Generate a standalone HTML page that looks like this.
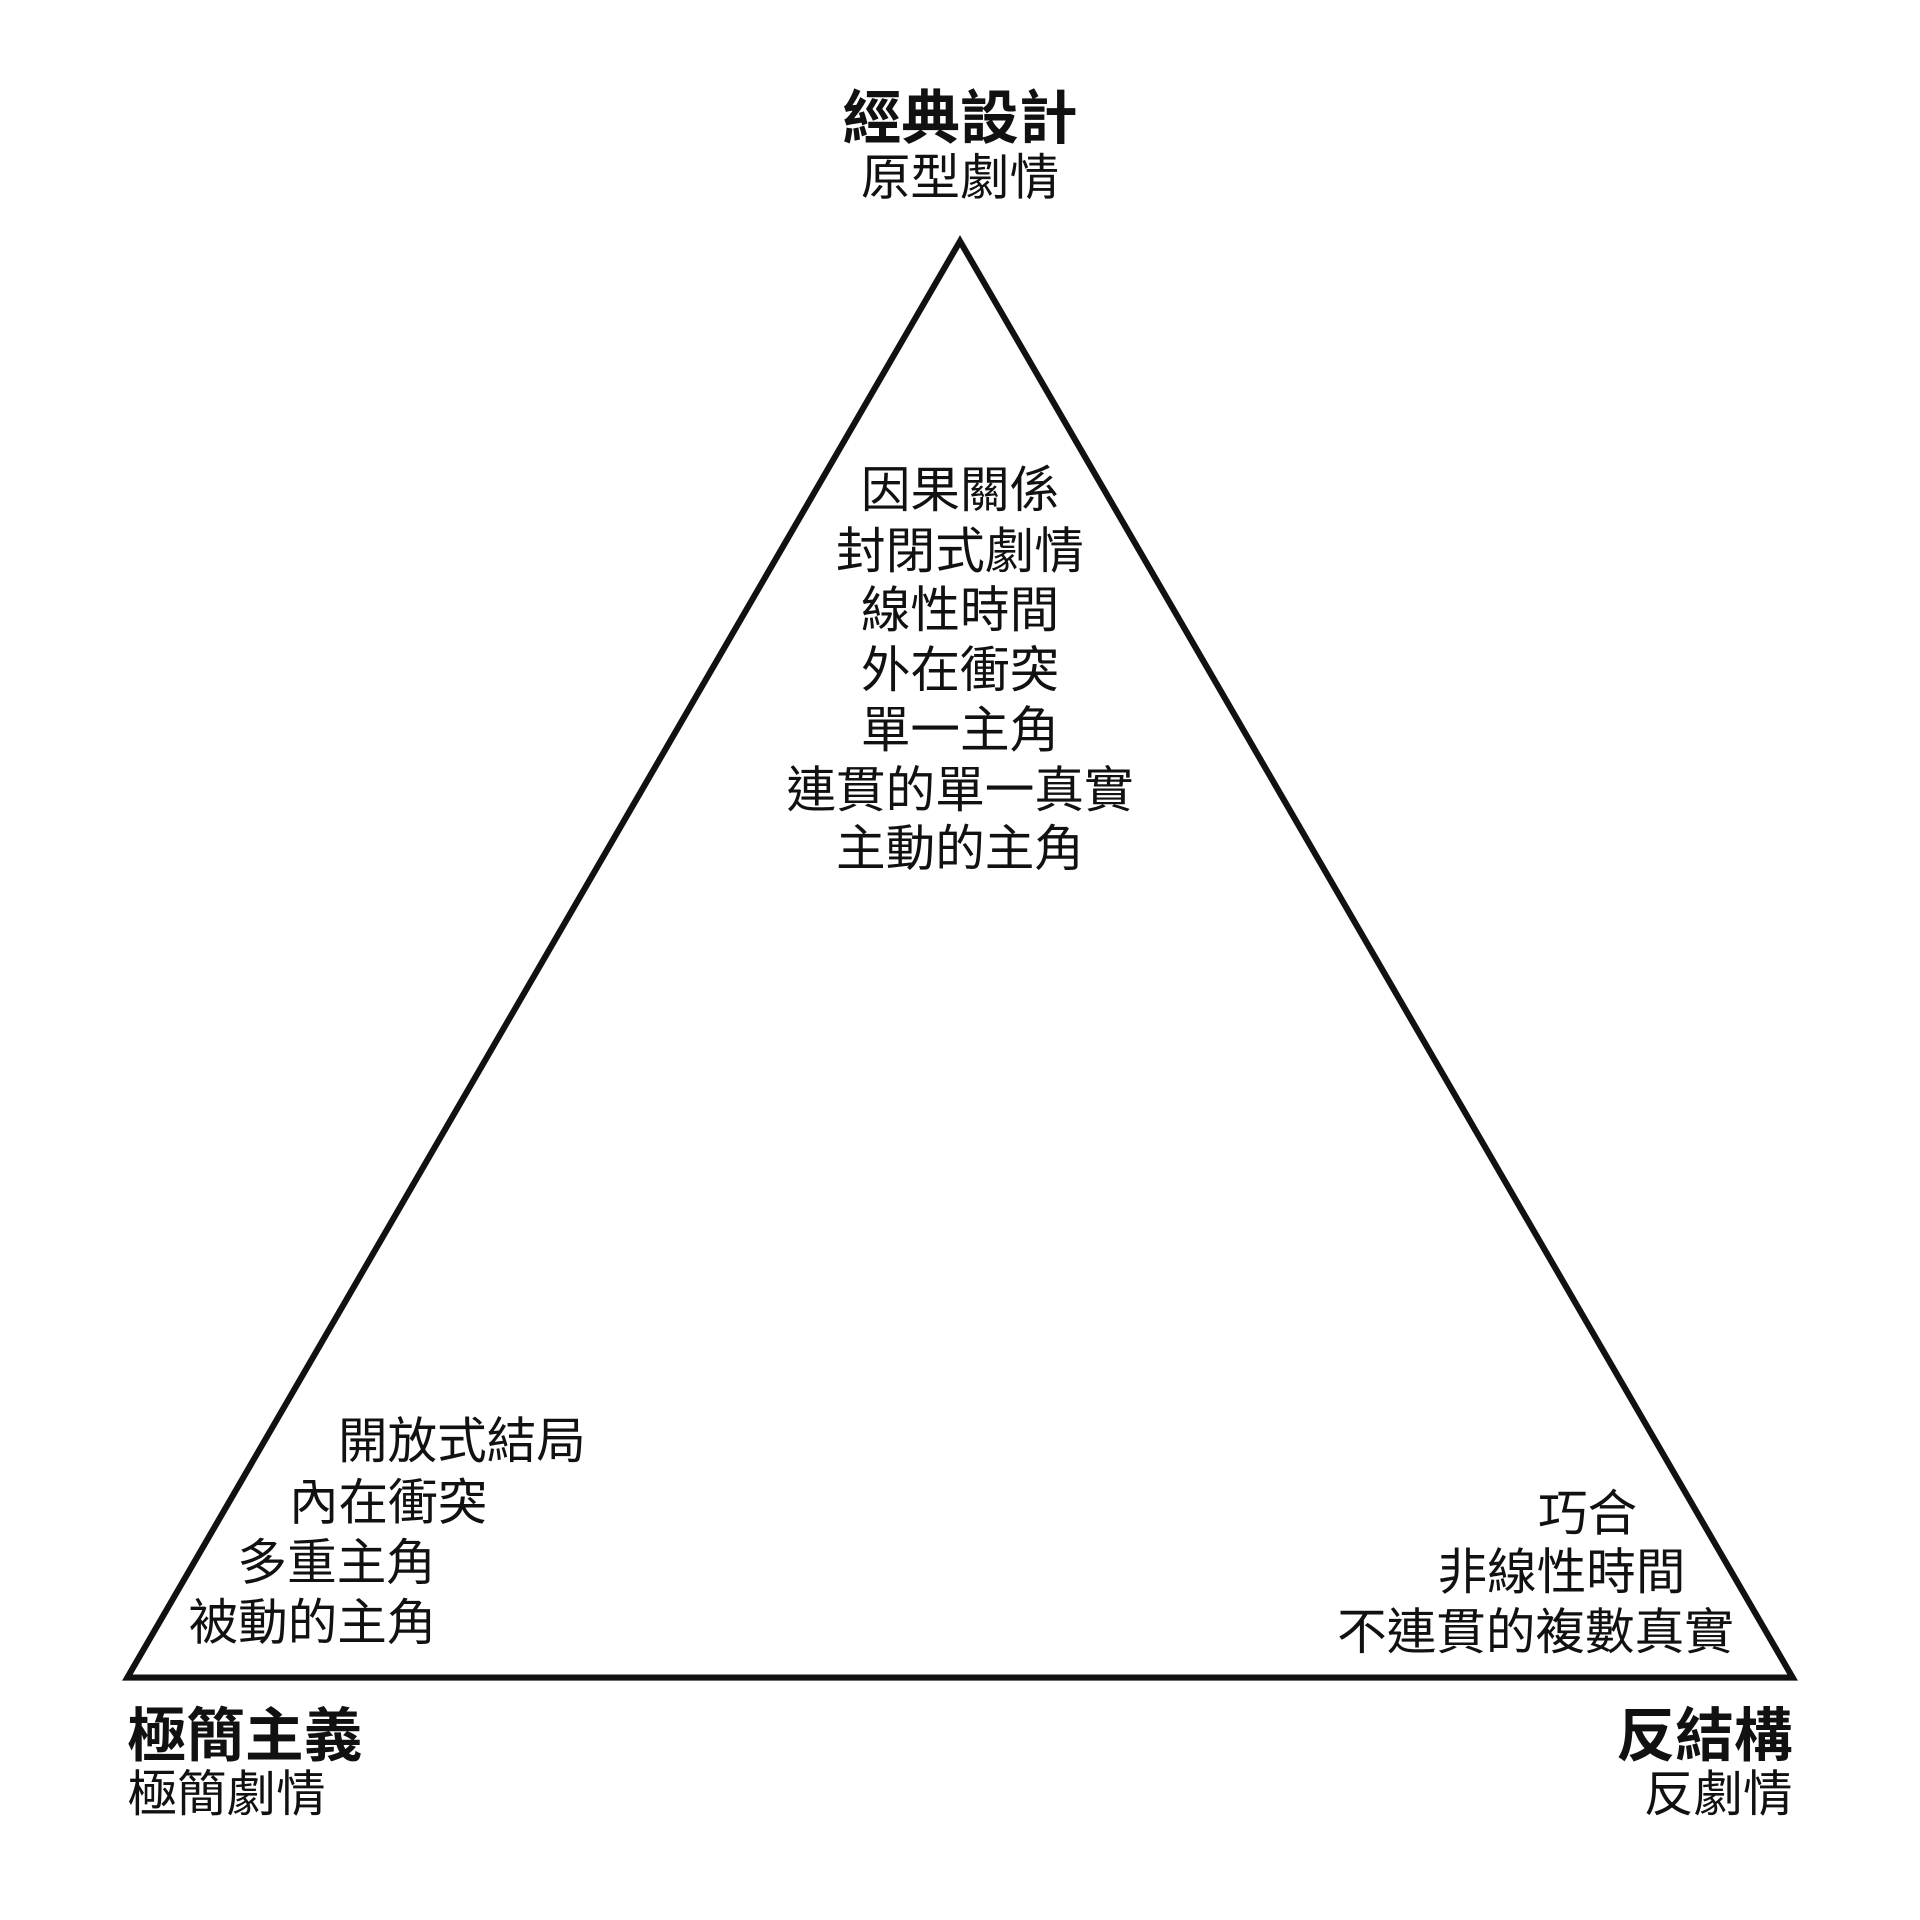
<!DOCTYPE html>
<html><head><meta charset="utf-8"><style>
html,body{margin:0;padding:0;background:#fff;width:1920px;height:1920px;overflow:hidden}
svg{display:block}
text{font-family:"Liberation Sans","Noto Sans CJK TC",sans-serif;fill:#111;dominant-baseline:central}
.b{font-weight:bold;font-size:48px}
.n{font-size:40.5px}
</style></head><body>
<svg width="1920" height="1920" viewBox="0 0 1568 1568" xmlns="http://www.w3.org/2000/svg">
<rect width="1568" height="1568" fill="#fff"/>
<polygon points="784,197 104,1370 1464,1370" fill="none" stroke="#111" stroke-width="5" stroke-linejoin="miter"/>
<text class="b" x="784" y="97" text-anchor="middle">經典設計</text>
<text class="n" x="784" y="145" text-anchor="middle">原型劇情</text>
<text class="n" x="784" y="400" text-anchor="middle">因果關係</text>
<text class="n" x="784" y="450" text-anchor="middle">封閉式劇情</text>
<text class="n" x="784" y="498" text-anchor="middle">線性時間</text>
<text class="n" x="784" y="547" text-anchor="middle">外在衝突</text>
<text class="n" x="784" y="596" text-anchor="middle">單一主角</text>
<text class="n" x="784" y="645" text-anchor="middle">連貫的單一真實</text>
<text class="n" x="784" y="693" text-anchor="middle">主動的主角</text>
<text class="n" x="276" y="1177">開放式結局</text>
<text class="n" x="236" y="1227">內在衝突</text>
<text class="n" x="194" y="1276">多重主角</text>
<text class="n" x="154" y="1325">被動的主角</text>
<text class="n" x="1256" y="1236">巧合</text>
<text class="n" x="1174" y="1284">非線性時間</text>
<text class="n" x="1092" y="1333">不連貫的複數真實</text>
<text class="b" x="104" y="1418">極簡主義</text>
<text class="n" x="104" y="1465">極簡劇情</text>
<text class="b" x="1464" y="1418" text-anchor="end">反結構</text>
<text class="n" x="1464" y="1465" text-anchor="end">反劇情</text>
</svg>
</body></html>
